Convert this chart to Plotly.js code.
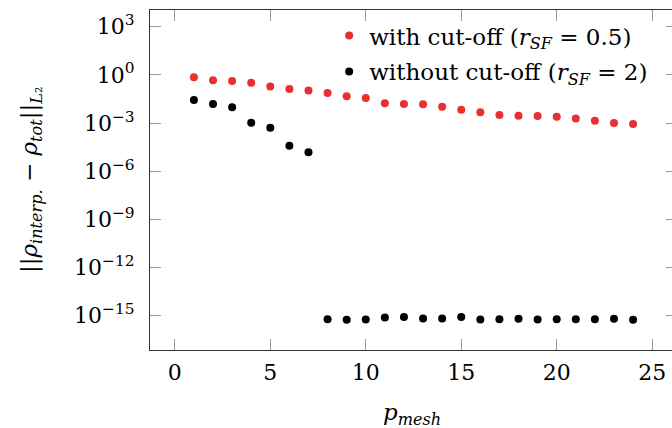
<!DOCTYPE html>
<html>
<head>
<meta charset="utf-8">
<script src="https://cdn.plot.ly/plotly-3.0.1.min.js"></script>
<style>
html, body { margin:0; padding:0; overflow:hidden; background:#fff; }
#chart { width:680px; height:428px; }
</style>
</head>
<body>
<div id="chart"></div>
<script>
const pMesh = [1,2,3,4,5,6,7,8,9,10,11,12,13,14,15,16,17,18,19,20,21,22,23,24];
const withCutoff = [0.72,0.47,0.41,0.32,0.19,0.13,0.105,0.074,0.047,0.036,0.017,0.0155,0.0148,0.0105,0.0068,0.0047,0.0032,0.0029,0.00275,0.0025,0.00195,0.00138,0.0010,0.00087];
const withoutCutoff = [0.0275,0.0155,0.0095,0.00105,0.00051,3.8e-5,1.55e-5,6.2e-16,5.6e-16,5.9e-16,7.9e-16,8.3e-16,6.8e-16,6.8e-16,8.3e-16,5.9e-16,6.2e-16,6.5e-16,5.9e-16,6.2e-16,6.2e-16,6.2e-16,6.5e-16,5.6e-16];
const yTickVals = [1e3,1e0,1e-3,1e-6,1e-9,1e-12,1e-15];
const yTickText = ['10<sup>3</sup>','10<sup>0</sup>','10<sup>−3</sup>','10<sup>−6</sup>','10<sup>−9</sup>','10<sup>−12</sup>','10<sup>−15</sup>'];
const xTickVals = [0,5,10,15,20,25];
const yTitle = '||<i>ρ</i><sub><i>interp.</i></sub> − <i>ρ</i><sub><i>tot</i></sub>||<sub><i>L</i>₂</sub>';
const xTitle = '<i>p</i><sub><i>mesh</i></sub>';

const FONT = 'DejaVu Serif';
const traces = [
  {x:pMesh, y:withCutoff, mode:'markers', type:'scatter', legendgroup:'a',
   name:'with cut-off (<i>r</i><sub><i>SF</i></sub> = 0.5)',
   marker:{color:'#e83030', size:8}},
  {x:pMesh, y:withoutCutoff, mode:'markers', type:'scatter', legendgroup:'b',
   name:'without cut-off (<i>r</i><sub><i>SF</i></sub> = 2)',
   marker:{color:'#000000', size:8}}
];
const layout = {
  width:680, height:428,
  margin:{l:150, r:3, t:10, b:78},
  paper_bgcolor:'#fff', plot_bgcolor:'#fff',
  font:{family:FONT, size:22, color:'#000'},
  showlegend:true,
  legend:{x:0.34, y:0.988, xanchor:'left', yanchor:'top', bgcolor:'rgba(255,255,255,0)',
          font:{family:FONT, size:23}, traceorder:'grouped', tracegroupgap:3},
  xaxis:{range:[-1.3,26.3], tickvals:xTickVals, ticks:'inside', ticklen:11, tickcolor:'#999',
         showline:true, linecolor:'#333', linewidth:1, mirror:'ticks', showgrid:false, zeroline:false,
         ticklabelstandoff:3, tickfont:{family:FONT, size:22}},
  yaxis:{type:'log', range:[-17.13,4.04], tickvals:yTickVals, ticktext:yTickText,
         ticks:'inside', ticklen:11, tickcolor:'#999', tickfont:{family:FONT, size:22},
         showline:true, linecolor:'#333', linewidth:1, mirror:'ticks', showgrid:false, zeroline:false,
         ticklabelstandoff:10},
  annotations:[
    {text:yTitle, xref:'paper', yref:'paper', x:(31-150)/527, y:0.5,
     xanchor:'center', yanchor:'middle', textangle:-90, showarrow:false,
     font:{family:FONT, size:23}},
    {text:xTitle, xref:'paper', yref:'paper', x:(412-150)/527, y:(350-414)/340,
     xanchor:'center', yanchor:'middle', showarrow:false,
     font:{family:FONT, size:23}}
  ]
};
Plotly.newPlot('chart', traces, layout, {displayModeBar:false, staticPlot:true});
</script>
</body>
</html>
